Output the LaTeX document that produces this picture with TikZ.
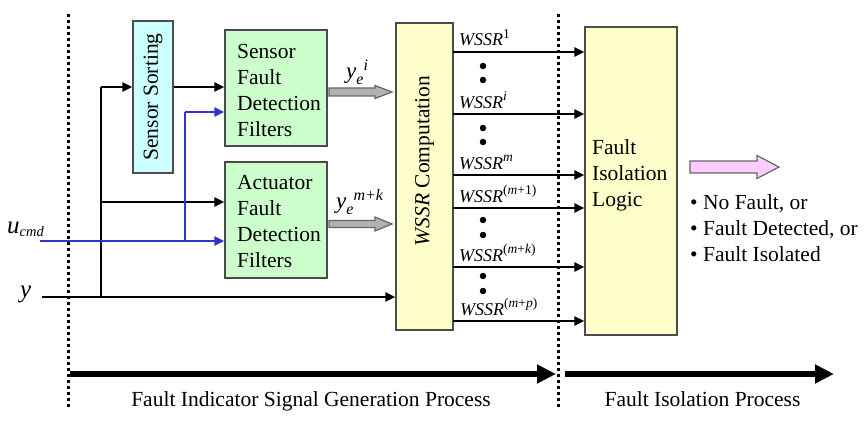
\documentclass[tikz,border=0pt]{standalone}
\usepackage{fontspec}
\setmainfont{Liberation Serif}
\usetikzlibrary{arrows.meta}
\definecolor{ssfill}{HTML}{CCFFFF}
\definecolor{gfill}{HTML}{CCFFCC}
\definecolor{yfill}{HTML}{FFFFCC}
\definecolor{pfill}{HTML}{FFCCFF}
\definecolor{sigblue}{HTML}{3333CC}
\definecolor{garrow}{HTML}{B2B2B2}
\newcommand\supx[1]{\raisebox{0.4em}{\fontsize{13.5}{13.5}\selectfont #1}}
\newcommand\ysig[1]{\textit{y}\rlap{\raisebox{-0.3em}{\fontsize{16}{16}\selectfont\textit{e}}}\raisebox{0.33em}{\fontsize{16}{16}\selectfont\kern0.45em\textit{#1}}}
\begin{document}
\begin{tikzpicture}[x=1pt,y=-1pt,
  every node/.style={font=\fontsize{21.5}{26}\selectfont, inner sep=0pt},
  blk/.style={draw=black!70, line width=1.4pt},
  wire/.style={line width=2.4pt, -{Triangle[length=10pt,width=9pt]}},
  bwire/.style={wire, draw=sigblue},
  plain/.style={line width=2.4pt},
  sep/.style={line width=3pt, dash pattern=on 3pt off 3pt},
  proc/.style={line width=6pt, -{Triangle[length=19pt,width=18pt]}},
  wlab/.style={anchor=base west, font=\fontsize{18}{20}\selectfont},
  dot/.style={circle, fill=black, minimum size=6.5pt},
  blockarrow/.style={draw=black!60, line width=1.2pt},
]
\useasboundingbox (0,0) rectangle (868,428);

% separators
\coordinate (s1t) at (68,14); \coordinate (s1b) at (68,409);
\coordinate (s2t) at (558,14); \coordinate (s2b) at (558,409);
\draw[sep] (s1t) -- (s1b);
\draw[sep] (s2t) -- (s2b);

% blocks
\node[blk, fill=ssfill, minimum width=40pt, minimum height=152pt] (ss) at (153,97) {};
\node[rotate=90] (sst) at (153,97) {Sensor Sorting};
\node[blk, fill=gfill, minimum width=102pt, minimum height=116pt] (sf) at (276,88) {};
\node[anchor=west, align=left] (sft) at (237,90) {Sensor\\Fault\\Detection\\Filters};
\node[blk, fill=gfill, minimum width=102pt, minimum height=116pt] (af) at (276,220) {};
\node[anchor=west, align=left] (aft) at (237,222) {Actuator\\Fault\\Detection\\Filters};
\node[blk, fill=yfill, minimum width=57pt, minimum height=307pt] (ws) at (424.5,176.5) {};
\node[rotate=90] (wst) at (424.5,161) {\textit{WSSR} Computation};
\node[blk, fill=yfill, minimum width=92pt, minimum height=308pt] (fil) at (631,181) {};
\node[anchor=west, align=left] (filt) at (592,175.5) {Fault\\Isolation\\Logic};

% inputs
\node[anchor=base west] (ulab) at (7,233) {\fontsize{25}{25}\selectfont\textit{u}\raisebox{-0.12em}{\fontsize{14.5}{14.5}\selectfont\textit{cmd}}};
\node[anchor=base west] (ylab) at (20,297) {\fontsize{25}{25}\selectfont\textit{y}};
\coordinate (uin) at (40,241);
\coordinate (yin) at (42,297);
\coordinate (ty) at (101,297);
\coordinate (tss) at (101,87);
\coordinate (tact) at (101,202);
\coordinate (tu) at (185,241);
\coordinate (tub) at (185,112);

\draw[wire] (yin) -- (yin -| ws.west);
\draw[plain] (ty) -- (tss);
\draw[wire] (tss) -- (tss -| ss.west);
\draw[wire] (tact) -- (tact -| af.west);
\draw[wire] (ss.east |- tss) -- (tss -| sf.west);
\draw[bwire] (uin) -- (uin -| af.west);
\draw[plain, sigblue] (tu) -- (tub);
\draw[bwire] (tub) -- (tub -| sf.west);

% residual block arrows
\draw[blockarrow, fill=garrow] (329,88) -- (375,88) -- (375,85.5) -- (392,92) -- (375,98.5) -- (375,96) -- (329,96) -- cycle;
\draw[blockarrow, fill=garrow] (329,220.5) -- (375,220.5) -- (375,217) -- (392,224) -- (375,231) -- (375,227.5) -- (329,227.5) -- cycle;
\node[anchor=base west, font=\fontsize{23}{23}\selectfont] (ye1) at (346,78) {\ysig{i}};
\node[anchor=base west, font=\fontsize{23}{23}\selectfont] (ye2) at (336,208) {\ysig{m+k}};

% WSSR outputs
\foreach \n/\yy in {1/52,2/114,3/175,4/208,5/267,6/321}{
  \coordinate (w\n) at (453,\yy);
  \draw[wire] (w\n) -- (w\n -| fil.west);
}
\node[wlab] (l1) at (459,46) {\textit{WSSR}\supx{1}};
\node[wlab] (l2) at (459,108) {\textit{WSSR}\supx{\textit{i}}};
\node[wlab] (l3) at (459,169) {\textit{WSSR}\supx{\textit{m}}};
\node[wlab] (l4) at (459,202) {\textit{WSSR}\supx{(\textit{m}+1)}};
\node[wlab] (l5) at (459,261) {\textit{WSSR}\supx{(\textit{m}+\textit{k})}};
\node[wlab] (l6) at (460,315) {\textit{WSSR}\supx{(\textit{m}+\textit{p})}};
\foreach \yy in {66,80,128,142,220,235,276,291}{
  \node[dot] at (483,\yy) {};
}

% output
\draw[blockarrow, fill=pfill] (690,161) -- (757,161) -- (757,155.5) -- (779,167) -- (757,178.5) -- (757,173) -- (690,173) -- cycle;
\node[anchor=base west] (b1) at (690,209) {• No Fault, or};
\node[anchor=base west] (b2) at (690,235) {• Fault Detected, or};
\node[anchor=base west] (b3) at (690,261) {• Fault Isolated};

% process arrows
\coordinate (p1a) at (70,374); \coordinate (p1b) at (556,374);
\coordinate (p2a) at (565,374); \coordinate (p2b) at (834,374);
\draw[proc] (p1a) -- (p1b);
\draw[proc] (p2a) -- (p2b);
\node[anchor=base] (pl1) at (311,406) {Fault Indicator Signal Generation Process};
\node[anchor=base] (pl2) at (702.5,406) {Fault Isolation Process};
\end{tikzpicture}
\end{document}
